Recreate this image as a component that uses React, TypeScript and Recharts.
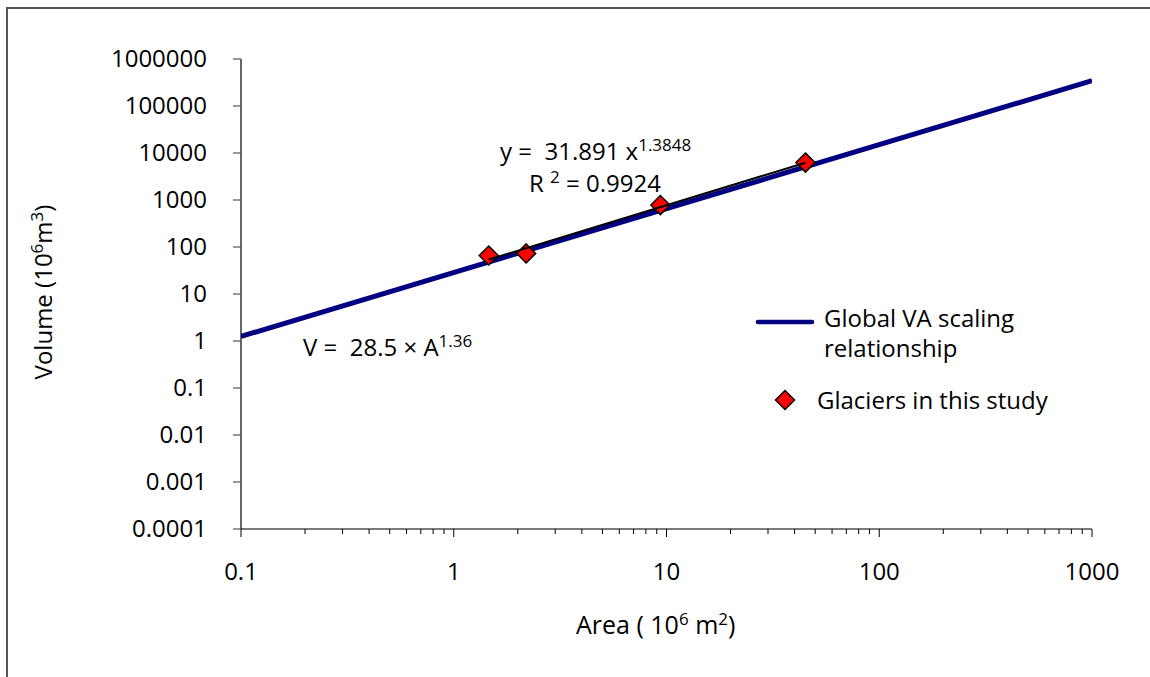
import React from 'react';
import { ScatterChart, Scatter, XAxis, YAxis } from 'recharts';

// glaciers measured in this study
const glacierArea = [1.46, 2.19, 9.36, 45.0];
const glacierVolume = [66, 73, 780, 6250];

// global volume-area scaling line (V = 28.5 A^1.36), end points
const globalArea = [0.1, 1000];
const globalVolume = [1.25, 345000];

// power trendline through the study glaciers, end points
const trendArea = [1.46, 45.0];
const trendVolume = [54, 6220];

const xMajorTicks = [0.1, 1, 10, 100, 1000];
const xMajorLabels = ['0.1', '1', '10', '100', '1000'];
const xMinorSteps = [2, 3, 4, 5, 6, 7, 8, 9];
const yTicks = [0.0001, 0.001, 0.01, 0.1, 1, 10, 100, 1000, 10000, 100000, 1000000];
const yLabels = ['0.0001', '0.001', '0.01', '0.1', '1', '10', '100', '1000', '10000', '100000', '1000000'];

const legendLabels = ['Global VA scaling', 'relationship', 'Glaciers in this study'];

const FONT = '"Open Sans", "Noto Sans", sans-serif';
const NB = '\u00a0';

const toPoints = (xs: number[], ys: number[]) => xs.map((x, i) => ({ x, y: ys[i] }));

const glacierData = toPoints(glacierArea, glacierVolume);
const globalData = toPoints(globalArea, globalVolume);
const trendData = toPoints(trendArea, trendVolume);

const xTicks: number[] = [];
xMajorTicks.forEach((t, i) => {
  xTicks.push(t);
  if (i < xMajorTicks.length - 1) xMinorSteps.forEach((s) => xTicks.push(+(t * s).toPrecision(3)));
});

const Diamond = ({ cx, cy }: any) => {
  if (cx == null || cy == null) return <g />;
  const r = 9.5;
  return (
    <polygon
      points={`${cx},${cy - r} ${cx + r},${cy} ${cx},${cy + r} ${cx - r},${cy}`}
      fill="#FF0000"
      stroke="#000000"
      strokeWidth={1.5}
    />
  );
};

const NoShape = () => <g />;

const XTick = ({ x, y, payload }: any) => {
  const idx = xMajorTicks.indexOf(payload.value);
  const major = idx >= 0;
  return (
    <g>
      <line x1={x} x2={x} y1={y} y2={y + (major ? 8 : 5)} stroke="#000" strokeWidth={1} />
      {major && (
        <text x={x} y={y + 51} textAnchor="middle" fontSize={24} fontFamily={FONT} fill="#000">
          {xMajorLabels[idx]}
        </text>
      )}
    </g>
  );
};

const YTick = ({ x, y, payload }: any) => {
  const idx = yTicks.indexOf(payload.value);
  return (
    <g>
      <line x1={x - 8} x2={x} y1={y} y2={y} stroke="#555" strokeWidth={1.2} />
      <text x={x - 34} y={y} dy="0.35em" textAnchor="end" fontSize={24} fontFamily={FONT} fill="#000">
        {yLabels[idx]}
      </text>
    </g>
  );
};

const Overlay = () => (
  <svg
    width={1150}
    height={677}
    style={{ position: 'absolute', left: 0, top: 0, pointerEvents: 'none', zIndex: 2 }}
    fontFamily={FONT}
    fill="#000"
  >
    {/* outer frame */}
    <rect x={7} y={8} width={1200} height={700} fill="none" stroke="#555" strokeWidth={2} />

    {/* legend */}
    <line x1={758} x2={812} y1={322} y2={322} stroke="#000080" strokeWidth={4.5} strokeLinecap="round" />
    <text x={824} y={327} fontSize={24}>{legendLabels[0]}</text>
    <text x={824} y={357} fontSize={24}>{legendLabels[1]}</text>
    <Diamond cx={785} cy={400} />
    <text x={817} y={409} fontSize={24}>{legendLabels[2]}</text>

    {/* equations */}
    <text x={500} y={160} fontSize={24}>
      {`y =${NB} 31.891 x`}
      <tspan fontSize={17} dy={-9}>1.3848</tspan>
    </text>
    <text x={529} y={192} fontSize={24}>
      {`R${NB}`}
      <tspan fontSize={17} dy={-9}>2</tspan>
      <tspan dy={9}>{`${NB}= 0.9924`}</tspan>
    </text>
    <text x={303} y={356} fontSize={24}>
      {`V =${NB} 28.5 \u00d7 A`}
      <tspan fontSize={17} dy={-9}>1.36</tspan>
    </text>

    {/* axis titles */}
    <text x={576} y={634} fontSize={25}>
      {`Area ( 10`}
      <tspan fontSize={17} dy={-9}>6</tspan>
      <tspan dy={9}>{`${NB}m`}</tspan>
      <tspan fontSize={17} dy={-9}>2</tspan>
      <tspan dy={9}>)</tspan>
    </text>
    <text transform="translate(52,292) rotate(-90)" textAnchor="middle" fontSize={24}>
      {'Volume (10'}
      <tspan fontSize={17} dy={-9}>6</tspan>
      <tspan dy={9}>m</tspan>
      <tspan fontSize={17} dy={-9}>3</tspan>
      <tspan dy={9}>)</tspan>
    </text>
  </svg>
);

export default function App() {
  return (
    <div style={{ position: 'fixed', left: 0, top: 0, width: 1150, height: 677, overflow: 'hidden', background: '#fff' }}>
      <ScatterChart width={1150} height={677} margin={{ top: 59, right: 58, bottom: 0, left: 0 }}>
        <XAxis
          type="number"
          dataKey="x"
          scale="log"
          domain={[0.1, 1000]}
          ticks={xTicks}
          interval={0}
          allowDataOverflow
          height={148}
          tickSize={0}
          tickMargin={0}
          tickLine={false}
          axisLine={{ stroke: '#7a7a7a', strokeWidth: 2 }}
          tick={(p: any) => <XTick {...p} />}
        />
        <YAxis
          type="number"
          dataKey="y"
          scale="log"
          domain={[0.0001, 1000000]}
          ticks={yTicks}
          interval={0}
          allowDataOverflow
          width={241}
          tickSize={0}
          tickMargin={0}
          tickLine={false}
          axisLine={{ stroke: '#000', strokeWidth: 1.2 }}
          tick={(p: any) => <YTick {...p} />}
        />
        <Scatter
          name="Global VA scaling relationship"
          data={globalData}
          line={{ stroke: '#000080', strokeWidth: 5 }}
          shape={NoShape}
          isAnimationActive={false}
        />
        <Scatter
          name="Glaciers in this study"
          data={glacierData}
          shape={Diamond}
          isAnimationActive={false}
        />
        <Scatter
          name="Trendline"
          data={trendData}
          line={{ stroke: '#000', strokeWidth: 2 }}
          shape={NoShape}
          isAnimationActive={false}
        />
      </ScatterChart>
      <Overlay />
    </div>
  );
}
